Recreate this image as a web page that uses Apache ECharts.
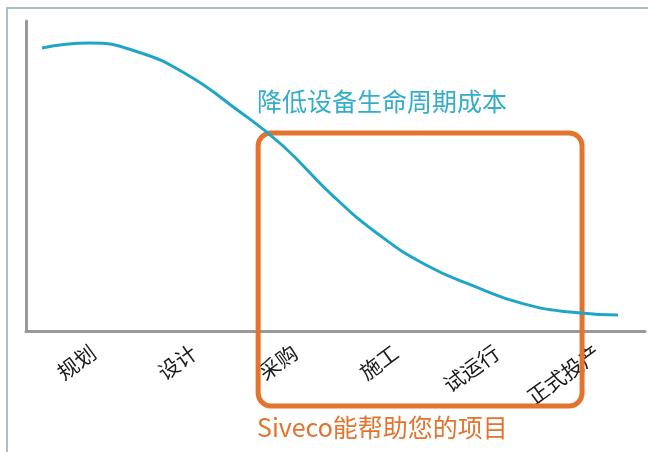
<!DOCTYPE html>
<html>
<head>
<meta charset="utf-8">
<script src="https://cdn.jsdelivr.net/npm/echarts@6/dist/echarts.min.js"></script>
<style>
    html, body { margin: 0; padding: 0; background: #fff; overflow: hidden; }
    .frame {
        position: absolute;
        left: 6px;
        top: 7px;
        width: 680px;
        height: 480px;
        border-top: 2px solid #a9c0cb;
        border-left: 2px solid #a9c0cb;
    }
    #lifecycle {
        position: absolute;
        left: 0;
        top: 0;
        width: 648px;
        height: 452px;
    }
</style>
</head>
<body>
<div class="frame"></div>
<div id="lifecycle"></div>
<script>
// 项目阶段
const stages = ['规划', '设计', '采购', '施工', '试运行', '正式投产']
// 成本曲线: x 为阶段位置 (0~6)，y 为相对成本
const costX = [0.155, 0.62, 1.086, 1.551, 2.016, 2.481, 2.947, 3.412, 3.877, 4.342, 4.808, 5.273, 5.738]
const costY = [91.3, 92.9, 90.0, 82.9, 72.1, 60.0, 44.5, 31.3, 21.3, 14.5, 8.9, 6.1, 5.2]
// Siveco 覆盖范围 [x起, y顶, x止, y底]
const sivecoRange = [2.25, 63.9, 5.39, -24.2]

const curveTitle = '降低设备生命周期成本'
const sivecoTitle = 'Siveco能帮助您的项目'

const cyan = '#1fa6c6'
const orange = '#e2742f'
const font = '"Noto Sans CJK SC", "Noto Sans", sans-serif'

const option = {
    animation: false,
    backgroundColor: 'transparent',
    grid: [
        { left: 26, right: 3, top: 21, bottom: 121 },
        // 阶段标签用的网格，略向右错开
        { left: 43, right: -14, top: 21, bottom: 121 }
    ],
    xAxis: [
        {
            type: 'value',
            gridIndex: 0,
            min: 0,
            max: 6,
            axisLine: {
                show: true,
                lineStyle: { color: '#999', width: 3 }
            },
            axisTick: { show: false },
            axisLabel: { show: false },
            splitLine: { show: false }
        },
        {
            type: 'category',
            gridIndex: 1,
            data: stages,
            boundaryGap: true,
            axisLine: { show: false },
            axisTick: { show: false },
            splitLine: { show: false },
            axisLabel: {
                rotate: 36,
                margin: 19,
                fontSize: 21,
                color: '#1a1a1a',
                fontFamily: font,
                interval: 0
            }
        }
    ],
    yAxis: [
        {
            type: 'value',
            gridIndex: 0,
            min: 0,
            max: 100,
            axisLine: {
                show: true,
                lineStyle: { color: '#999', width: 3 }
            },
            axisTick: { show: false },
            axisLabel: { show: false },
            splitLine: { show: false }
        },
        {
            type: 'value',
            gridIndex: 1,
            show: false
        }
    ],
    series: [
        {
            // Siveco 范围框
            type: 'custom',
            xAxisIndex: 0,
            yAxisIndex: 0,
            clip: false,
            z: 2,
            data: [sivecoRange],
            renderItem: function (params, api) {
                const p0 = api.coord([api.value(0), api.value(1)])
                const p1 = api.coord([api.value(2), api.value(3)])
                return {
                    type: 'rect',
                    shape: {
                        x: p0[0],
                        y: p0[1],
                        width: p1[0] - p0[0],
                        height: p1[1] - p0[1],
                        r: 13
                    },
                    style: {
                        fill: 'none',
                        stroke: orange,
                        lineWidth: 5
                    }
                }
            }
        },
        {
            // 成本曲线
            type: 'line',
            xAxisIndex: 0,
            yAxisIndex: 0,
            smooth: 0.5,
            symbol: 'none',
            z: 3,
            lineStyle: { color: cyan, width: 3 },
            data: costX.map((x, i) => [x, costY[i]])
        }
    ],
    graphic: [
        {
            type: 'text',
            left: 257,
            top: 89,
            style: {
                text: curveTitle,
                fill: '#33adca',
                font: '25px ' + font
            }
        },
        {
            type: 'text',
            left: 257,
            top: 415,
            style: {
                text: sivecoTitle,
                fill: orange,
                font: '25px ' + font
            }
        }
    ]
}

const chart = echarts.init(document.getElementById('lifecycle'))
chart.setOption(option)
</script>
</body>
</html>
